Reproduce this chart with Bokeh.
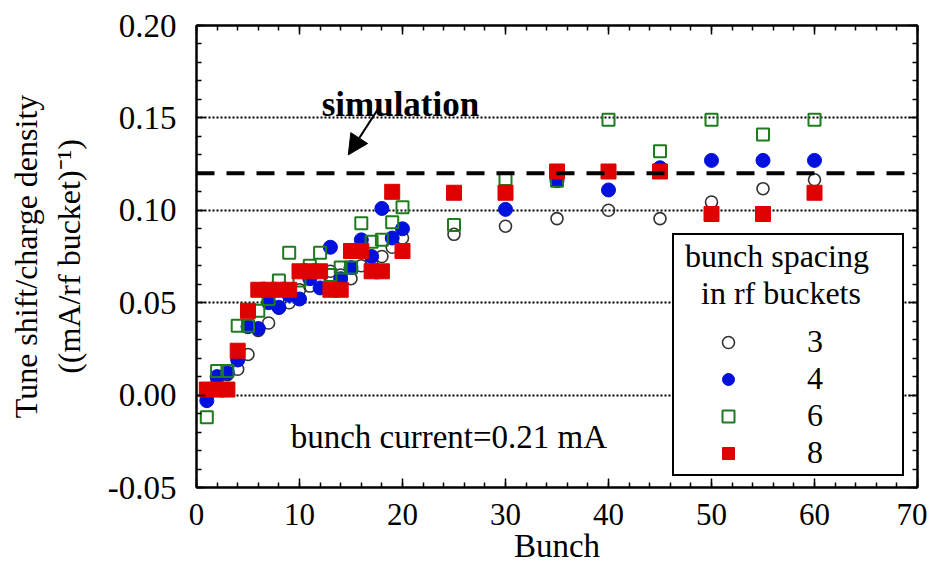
from bokeh.plotting import figure
from bokeh.models import (Range1d, LinearAxis, Span, Label, Arrow, NormalHead, Legend,
                          LegendItem, SingleIntervalTicker, PrintfTickFormatter)
from bokeh.embed import file_html
from bokeh.resources import INLINE

# ---------------- data ----------------
bunch_early = list(range(1, 21))

s3_x = bunch_early + [25, 30, 35, 40, 45, 50, 55, 60]
s3_y = [0.000, 0.008, 0.011, 0.014, 0.022, 0.035, 0.039, 0.047, 0.050, 0.057,
        0.059, 0.062, 0.067, 0.065, 0.063, 0.070, 0.072, 0.075, 0.080, 0.085,
        0.087, 0.0914, 0.0955, 0.100, 0.0955, 0.1045, 0.1117, 0.1165]

s4_x = bunch_early + [30, 35, 40, 45, 50, 55, 60]
s4_y = [-0.003, 0.010, 0.012, 0.019, 0.037, 0.036, 0.050, 0.0475, 0.054, 0.052,
        0.063, 0.058, 0.080, 0.063, 0.069, 0.084, 0.075, 0.101, 0.085, 0.090,
        0.1005, 0.116, 0.111, 0.123, 0.127, 0.127, 0.127]

s6_x = bunch_early + [25, 30, 35, 40, 45, 50, 55, 60]
s6_y = [-0.012, 0.013, 0.013, 0.0375, 0.0375, 0.0456, 0.052, 0.062, 0.077, 0.062,
        0.070, 0.077, 0.065, 0.069, 0.069, 0.093, 0.083, 0.084, 0.0935, 0.1016,
        0.092, 0.117, 0.116, 0.149, 0.132, 0.149, 0.141, 0.149]

s8_x = bunch_early + [25, 30, 35, 40, 45, 50, 55, 60]
s8_y = [0.003, 0.003, 0.003, 0.024, 0.0456, 0.057, 0.057, 0.057, 0.057, 0.067,
        0.067, 0.067, 0.057, 0.057, 0.078, 0.078, 0.067, 0.067, 0.110, 0.078,
        0.1095, 0.1095, 0.121, 0.121, 0.121, 0.098, 0.098, 0.1095]

simulation_value = 0.12
series_labels = ["3", "4", "6", "8"]
x_ticks_interval = 10
y_ticks_interval = 0.05

FONT = "Liberation Serif"

p = figure(width=927, height=566, x_range=Range1d(0, 70), y_range=Range1d(-0.05, 0.20),
           output_backend="svg", toolbar_location=None,
           min_border_left=196, min_border_right=10, min_border_top=25, min_border_bottom=78)

p.outline_line_color = "black"
p.outline_line_width = 2
p.background_fill_color = "white"
p.border_fill_color = "white"

def style_axis(ax, show_labels=True):
    ax.axis_line_color = "black"
    ax.axis_line_width = 2
    ax.major_tick_in = 9
    ax.major_tick_out = 0
    ax.minor_tick_in = 5
    ax.minor_tick_out = 0
    ax.major_tick_line_width = 1.5
    ax.minor_tick_line_width = 1.5
    ax.major_tick_line_color = "black"
    ax.minor_tick_line_color = "black"
    ax.major_label_text_font = FONT
    if show_labels:
        ax.major_label_text_font_size = "31px"
        ax.major_label_text_color = "black"
    else:
        ax.major_label_text_font_size = "1px"
        ax.major_label_text_color = None
        ax.major_label_standoff = 0

xt = SingleIntervalTicker(interval=x_ticks_interval, num_minor_ticks=5)
yt = SingleIntervalTicker(interval=y_ticks_interval, num_minor_ticks=5)

p.xaxis.ticker = xt
p.yaxis.ticker = yt
p.yaxis.formatter = PrintfTickFormatter(format="%.2f")
style_axis(p.xaxis[0])
style_axis(p.yaxis[0])
p.yaxis.major_label_text_font_size = "33px"
p.xaxis.major_label_standoff = 16
p.yaxis.major_label_standoff = 20

p.xaxis.axis_label = "Bunch"
p.yaxis.axis_label = "Tune shift/charge density\n((mA/rf bucket)\u207b\u00b9)"
for ax in (p.xaxis[0], p.yaxis[0]):
    ax.axis_label_text_font = FONT
    ax.axis_label_text_font_style = "normal"
    ax.axis_label_text_color = "black"
p.xaxis.axis_label_text_font_size = "33px"
p.yaxis.axis_label_text_font_size = "32px"
p.xaxis.axis_label_standoff = 0
p.yaxis.axis_label_standoff = 18

top = LinearAxis(ticker=SingleIntervalTicker(interval=x_ticks_interval, num_minor_ticks=5))
right = LinearAxis(ticker=SingleIntervalTicker(interval=y_ticks_interval, num_minor_ticks=5))
style_axis(top, False)
style_axis(right, False)
p.add_layout(top, "above")
p.add_layout(right, "right")

p.xgrid.visible = False
p.ygrid.grid_line_color = "black"
p.ygrid.grid_line_dash = "2 2"
p.ygrid.grid_line_width = 2

p.add_layout(Span(location=simulation_value, dimension="width", line_color="black",
                  line_width=4, line_dash="18 12"))

r3 = p.scatter(s3_x, s3_y, marker="circle", size=12, fill_color=None,
               line_color="#333333", line_width=1.6)
r4 = p.scatter(s4_x, s4_y, marker="circle", size=14, fill_color="#0010dd",
               line_color="#0010dd")
r6 = p.scatter(s6_x, s6_y, marker="square", size=12, fill_color=None,
               line_color="#1e7b1e", line_width=2)
r8 = p.scatter(s8_x, s8_y, marker="square", size=15, fill_color="#e00000",
               line_color="#e00000")

p.add_layout(Label(x=19.8, y=0.157, text="simulation", text_font=FONT,
                   text_font_size="35px", text_font_style="bold", text_align="center",
                   text_baseline="alphabetic", text_color="black"))
p.add_layout(Arrow(end=NormalHead(size=20, fill_color="black", line_color="black"),
                   x_start=17.65, y_start=0.155, x_end=14.74, y_end=0.130,
                   line_width=2, line_color="black"))
p.add_layout(Label(x=24.5, y=-0.0227, text="bunch current=0.21 mA", text_font=FONT,
                   text_font_size="33px", text_align="center", text_baseline="alphabetic",
                   text_color="black"))

legend = Legend(items=[LegendItem(label=l, renderers=[r]) for l, r in
                       zip(series_labels, [r3, r4, r6, r8])],
                location=(476, 11),
                title="\u00a0bunch spacing\n\u00a0\u00a0\u00a0in rf buckets")
legend.title_text_font = FONT
legend.title_text_font_size = "32px"
legend.title_text_font_style = "normal"
legend.title_text_color = "black"
legend.label_text_font = FONT
legend.label_text_font_size = "32px"
legend.label_text_color = "black"
legend.border_line_color = "black"
legend.border_line_alpha = 1
legend.border_line_width = 2
legend.background_fill_alpha = 1
legend.padding = 3
legend.glyph_width = 102
legend.glyph_height = 30
legend.label_height = 30
legend.label_width = 92
legend.label_standoff = 28
legend.spacing = 0
legend.title_standoff = 11
legend.margin = 0
p.add_layout(legend)

open("out.html", "w").write(file_html(p, INLINE))
